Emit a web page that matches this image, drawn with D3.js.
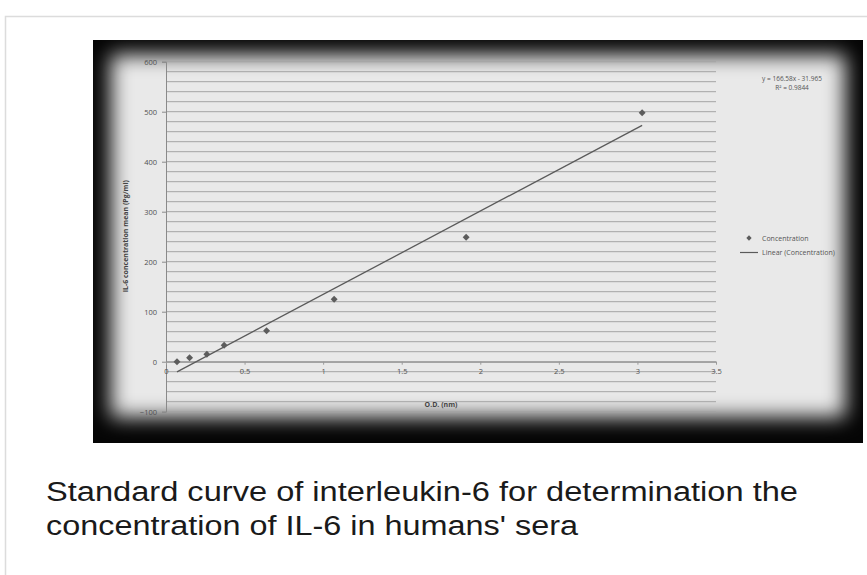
<!DOCTYPE html>
<html>
<head>
<meta charset="utf-8">
<script src="https://cdn.jsdelivr.net/npm/d3@7"></script>
<style>
  body { margin: 0; background: #fff; }
  svg { display: block; }
</style>
</head>
<body>
<div id="chart"></div>
<script>
// data
const odValues = [0.07, 0.15, 0.26, 0.37, 0.64, 1.07, 1.91, 3.03];
const concValues = [0, 8, 15, 33, 62, 125, 249, 498];
const yTicks = [-100, 0, 100, 200, 300, 400, 500, 600];
const xTicks = [0, 0.5, 1, 1.5, 2, 2.5, 3, 3.5];
const xTickLabels = ["0", "0.5", "1", "1.5", "2", "2.5", "3", "3.5"];
const fitSlope = 166.58;
const fitIntercept = -31.965;
const fitR2 = 0.9844;
const captionLines = [
    "Standard curve of interleukin-6 for determination the",
    "concentration of IL-6 in humans' sera"
];

const W = 867, H = 575;

const svg = d3.select("#chart").append("svg")
    .attr("width", W)
    .attr("height", H);

// card outline
svg.append("path")
    .attr("d", "M5.5,575 V16.5 H867")
    .attr("fill", "none")
    .attr("stroke", "#dcdcdc")
    .attr("stroke-width", 1.5);

// photo frame with dark vignette
const defs = svg.append("defs");
defs.append("filter")
    .attr("id", "vig")
    .attr("x", "-10%").attr("y", "-10%")
    .attr("width", "120%").attr("height", "120%")
    .append("feGaussianBlur")
    .attr("stdDeviation", 10);
defs.append("clipPath").attr("id", "frameClip")
    .append("rect")
    .attr("x", 93).attr("y", 40)
    .attr("width", 770).attr("height", 403);

svg.append("rect")
    .attr("x", 93).attr("y", 40)
    .attr("width", 770).attr("height", 403)
    .attr("fill", "#050505");

svg.append("g").attr("clip-path", "url(#frameClip)")
    .append("rect")
    .attr("x", 111).attr("y", 55)
    .attr("width", 734).attr("height", 362)
    .attr("fill", "#e9e9e9")
    .attr("filter", "url(#vig)");

// plot area
const margin = {top: 61.7, left: 166};
const plotW = 550, plotH = 350;

const g = svg.append("g")
    .attr("transform", `translate(${margin.left}, ${margin.top})`);

const x = d3.scaleLinear().domain([0, 3.5]).range([0, plotW]);
const y = d3.scaleLinear().domain([-100, 600]).range([plotH, 0]);

const tickFont = "'Open Sans', 'DejaVu Sans', sans-serif";

// gridlines every 20 units
const gridVals = d3.range(-100, 601, 20);
g.append("g").selectAll("line")
    .data(gridVals)
    .join("line")
    .attr("x1", 0)
    .attr("x2", plotW)
    .attr("y1", d => y(d))
    .attr("y2", d => y(d))
    .attr("stroke", "#a4a4a4")
    .attr("stroke-width", 1);

// y axis
const yAxis = d3.axisLeft(y).tickValues(yTicks).tickSize(4).tickPadding(5);
const yAxisGroup = g.append("g").call(yAxis);
yAxisGroup.select(".domain").attr("stroke", "#8a8a8a");
yAxisGroup.selectAll(".tick line").attr("stroke", "#8a8a8a");
yAxisGroup.selectAll("text")
    .attr("fill", "#505050")
    .style("font-family", tickFont)
    .style("font-size", "7.5px");

// x axis at y = 0
const xAxis = d3.axisBottom(x).tickValues(xTicks)
    .tickFormat((d, i) => xTickLabels[i])
    .tickSize(3).tickPadding(4).tickSizeOuter(0);
const xAxisGroup = g.append("g")
    .attr("transform", `translate(0, ${y(0)})`)
    .call(xAxis);
xAxisGroup.select(".domain").attr("stroke", "#8a8a8a");
xAxisGroup.selectAll(".tick line").attr("stroke", "#9a9a9a");
xAxisGroup.selectAll("text")
    .attr("fill", "#505050")
    .style("font-family", tickFont)
    .style("font-size", "7.5px");

// axis titles
g.append("text")
    .attr("transform", `translate(-38, ${y(250) - 0.5}) rotate(-90)`)
    .attr("text-anchor", "middle")
    .attr("fill", "#444")
    .style("font-family", tickFont)
    .style("font-size", "7px")
    .style("font-weight", "bold")
    .text("IL-6 concentration mean (Pg/ml)");

g.append("text")
    .attr("x", x(1.75))
    .attr("y", y(-100) - 5)
    .attr("text-anchor", "middle")
    .attr("fill", "#444")
    .style("font-family", tickFont)
    .style("font-size", "7px")
    .style("font-weight", "bold")
    .text("O.D. (nm)");

// linear trend line from the printed fit
const xMin = d3.min(odValues), xMax = d3.max(odValues);
const trend = [xMin, xMax].map(v => ({od: v, c: fitSlope * v + fitIntercept}));
g.append("path")
    .datum(trend)
    .attr("d", d3.line().x(d => x(d.od)).y(d => y(d.c)))
    .attr("fill", "none")
    .attr("stroke", "#5a5a5a")
    .attr("stroke-width", 1.3);

// data points (square diamonds)
const diamond = d3.symbol().type(d3.symbolSquare).size(24);
g.selectAll(".point")
    .data(odValues.map((v, i) => ({od: v, c: concValues[i]})))
    .join("path")
    .attr("class", "point")
    .attr("d", diamond)
    .attr("transform", d => `translate(${x(d.od)}, ${y(d.c)}) rotate(45)`)
    .attr("fill", "#5c5c5c");

// equation
const eq = svg.append("g").attr("transform", "translate(792, 0)");
eq.append("text")
    .attr("y", 81)
    .attr("text-anchor", "middle")
    .attr("fill", "#555")
    .style("font-family", tickFont)
    .style("font-size", "6.5px")
    .text(`y = ${fitSlope}x - ${Math.abs(fitIntercept)}`);
eq.append("text")
    .attr("y", 90)
    .attr("text-anchor", "middle")
    .attr("fill", "#555")
    .style("font-family", tickFont)
    .style("font-size", "6.5px")
    .text(`R² = ${fitR2}`);

// legend
const legend = svg.append("g").attr("transform", "translate(740, 238)");
legend.append("path")
    .attr("d", d3.symbol().type(d3.symbolSquare).size(14))
    .attr("transform", "translate(9, 0) rotate(45)")
    .attr("fill", "#5c5c5c");
legend.append("text")
    .attr("x", 22).attr("y", 2.5)
    .attr("fill", "#555")
    .style("font-family", tickFont)
    .style("font-size", "7px")
    .text("Concentration");
legend.append("line")
    .attr("x1", 0).attr("x2", 18)
    .attr("y1", 14.5).attr("y2", 14.5)
    .attr("stroke", "#5a5a5a")
    .attr("stroke-width", 1.2);
legend.append("text")
    .attr("x", 22).attr("y", 17)
    .attr("fill", "#555")
    .style("font-family", tickFont)
    .style("font-size", "7px")
    .text("Linear (Concentration)");

// caption
const captionWidths = [752, 532];
svg.selectAll(".caption")
    .data(captionLines)
    .join("text")
    .attr("class", "caption")
    .attr("x", 46)
    .attr("y", (d, i) => 501 + i * 33.5)
    .attr("textLength", (d, i) => captionWidths[i])
    .attr("lengthAdjust", "spacingAndGlyphs")
    .attr("fill", "#1a1a1a")
    .style("font-family", "'Liberation Sans', Arial, sans-serif")
    .style("font-size", "27px")
    .text(d => d);
</script>
</body>
</html>
